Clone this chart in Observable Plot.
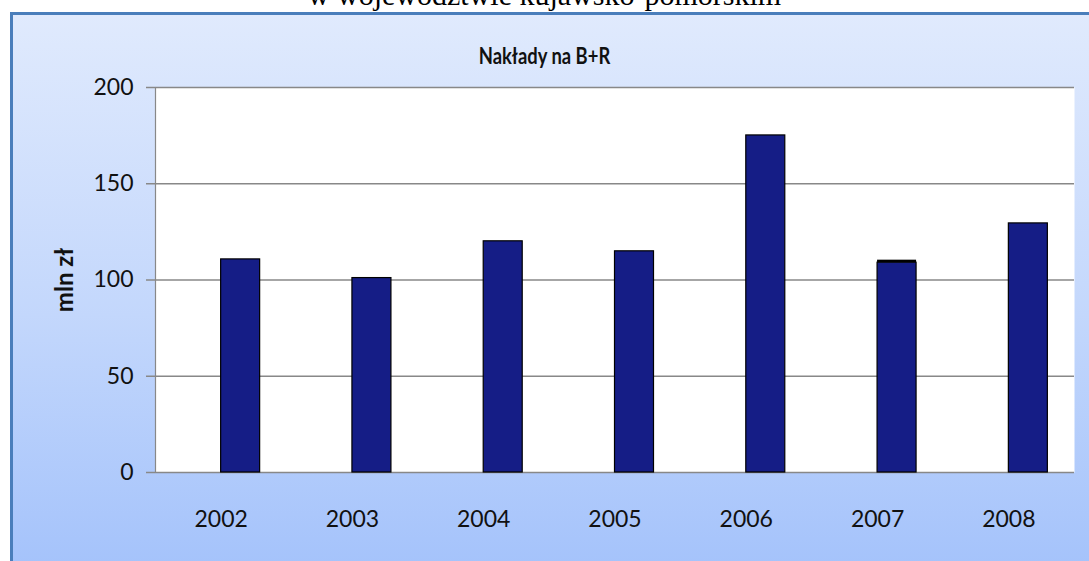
<!DOCTYPE html>
<html>
<head>
<meta charset="utf-8">
<script src="https://cdn.jsdelivr.net/npm/d3@7"></script>
<script src="https://cdn.jsdelivr.net/npm/@observablehq/plot@0.6"></script>
<style>
  html, body { margin: 0; padding: 0; background: #a5c3fb; overflow: hidden; }
  #wrap { position: relative; width: 1400px; height: 561px; overflow: hidden; background: #fff; }
  #toptext { position: absolute; left: 0; width: 1089px; top: -25px; text-align: center;
    font-family: "Liberation Serif", "Times New Roman", serif; font-size: 30px; color: #000; line-height: 40px; }
  #box { position: absolute; left: 10px; top: 12px; width: 1500px; height: 700px;
    border-left: 3px solid #4a7ebb; border-top: 3px solid #4a7ebb;
    background: linear-gradient(to bottom, #e0eafd 0px, #c3d7fc 300px, #a5c3fb 549px, #a5c3fb 700px); }
  #title { position: absolute; left: 0; width: 1089px; top: 41px; text-align: center;
    font-family: Lato, "Liberation Sans", sans-serif; font-size: 23px; font-weight: bold; color: #111;
    transform: scaleX(0.8); transform-origin: 544.5px 50%; }
  #ylabel { position: absolute; left: 63px; top: 280px; transform: translate(-50%, -50%) rotate(-90deg);
    font-family: Lato, "Liberation Sans", sans-serif; font-size: 24px; font-weight: bold; color: #111; white-space: nowrap; }
  #chart { position: absolute; left: 0; top: 0; }
  #chart svg { background: transparent !important; }
</style>
</head>
<body>
<div id="wrap">
  <div id="box"></div>
  <div id="toptext">w województwie kujawsko-pomorskim</div>
  <div id="title">Nakłady na B+R</div>
  <div id="ylabel">mln zł</div>
  <div id="chart"></div>
</div>
<script>
const years = ["2002", "2003", "2004", "2005", "2006", "2007", "2008"];
const values = [110.7, 101.0, 120.1, 114.9, 175.1, 109.0, 129.4];
const extra = [0, 0, 0, 0, 0, 1.3, 0];
const yTicks = [0, 50, 100, 150, 200];

const data = years.map((y, i) => ({year: y, value: values[i], extra: extra[i]}));
const capData = data.filter(d => d.extra > 0);

const W = 1089, H = 561;
const mL = 155, mR = 15, mT = 87, mB = 89;
const bw = (W - mL - mR) / years.length;
const barW = 39;

const chart = Plot.plot({
  width: W,
  height: H,
  marginLeft: mL,
  marginRight: mR,
  marginTop: mT,
  marginBottom: mB,
  style: {background: "transparent", fontFamily: "Lato, 'Liberation Sans', sans-serif", color: "#111"},
  x: {domain: years, padding: 0, round: false, label: null},
  y: {domain: [0, 200], label: null},
  marks: [
    Plot.frame({fill: "white", stroke: null}),
    Plot.gridY(yTicks, {stroke: "#888", strokeOpacity: 1, strokeWidth: 1.5}),
    Plot.frame({anchor: "left", stroke: "#888", strokeWidth: 1.2}),
    Plot.axisY(yTicks, {tickSize: 9, tickPadding: 13, stroke: "#888", strokeWidth: 1.5, fontSize: 23, fill: "#111", label: null}),
    Plot.axisX({tickSize: 0, tickPadding: 38, fontSize: 23, fill: "#111", label: null}),
    Plot.barY(data, {x: "year", y: "value", fill: "#151d86", stroke: "#000", strokeWidth: 1.2,
      insetLeft: bw / 2, insetRight: bw / 2 - barW}),
    Plot.barY(capData, {x: "year", y1: "value", y2: d => d.value + d.extra, fill: "#000",
      insetLeft: bw / 2, insetRight: bw / 2 - barW})
  ]
});
document.getElementById("chart").appendChild(chart);
</script>
</body>
</html>
